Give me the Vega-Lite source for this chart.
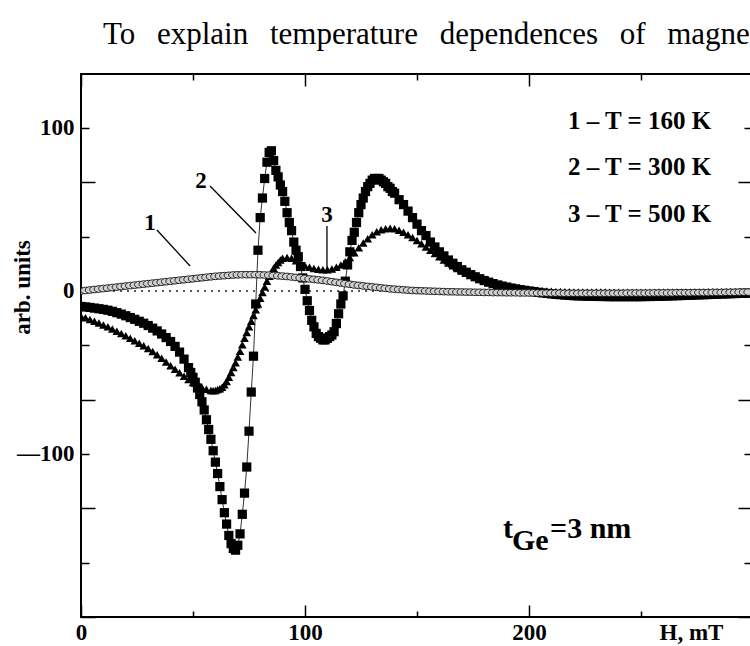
{
  "$schema": "https://vega.github.io/schema/vega-lite/v6.json",
  "width": 671,
  "height": 543,
  "autosize": "none",
  "padding": {"left": 81, "top": 74, "right": -2, "bottom": 29},
  "background": "white",
  "title": {
    "text": "To\u2002\u2009explain\u2002\u2009temperature\u2002\u2009dependences\u2002\u2009of\u2002\u2009magnetic",
    "anchor": "start", "frame": "group", "dx": 22, "dy": 32, "offset": 30,
    "baseline": "alphabetic", "font": "Liberation Serif", "fontSize": 31,
    "fontWeight": "normal", "color": "black"
  },
  "config": {
    "view": {"stroke": "black", "strokeWidth": 2},
    "axis": {
      "domain": false, "grid": false, "tickColor": "black", "tickWidth": 1.5,
      "labelFont": "Liberation Serif", "labelFontWeight": "bold", "labelFontSize": 23,
      "labelColor": "black", "labelFlush": false, "labelOverlap": false, "labelBound": false,
      "titleFont": "Liberation Serif", "titleFontWeight": "bold", "titleFontSize": 23, "titleColor": "black"
    }
  },
  "datasets": {
    "c1": [
      {"h":0,"v":0},{"h":2,"v":0.3},{"h":4,"v":0.6},{"h":6,"v":0.9},{"h":8,"v":1.2},{"h":10,"v":1.5},{"h":12,"v":1.8},{"h":14,"v":2.1},{"h":16,"v":2.4},{"h":18,"v":2.7},
      {"h":20,"v":3.0},{"h":22,"v":3.3},{"h":24,"v":3.6},{"h":26,"v":3.9},{"h":28,"v":4.2},{"h":30,"v":4.5},{"h":32,"v":4.8},{"h":34,"v":5.1},{"h":36,"v":5.4},{"h":38,"v":5.7},
      {"h":40,"v":6.0},{"h":42,"v":6.3},{"h":44,"v":6.6},{"h":46,"v":6.9},{"h":48,"v":7.2},{"h":50,"v":7.5},{"h":52,"v":7.8},{"h":54,"v":8.1},{"h":56,"v":8.4},{"h":58,"v":8.7},
      {"h":60,"v":9.0},{"h":62,"v":9.2},{"h":64,"v":9.4},{"h":66,"v":9.6},{"h":68,"v":9.8},{"h":70,"v":9.9},{"h":72,"v":10},{"h":74,"v":10},{"h":76,"v":10},{"h":78,"v":10},
      {"h":80,"v":9.9},{"h":82,"v":9.8},{"h":84,"v":9.7},{"h":86,"v":9.5},{"h":88,"v":9.3},{"h":90,"v":9.1},{"h":92,"v":8.9},{"h":94,"v":8.6},{"h":96,"v":8.3},{"h":98,"v":8.0},
      {"h":100,"v":7.7},{"h":102,"v":7.4},{"h":104,"v":7.1},{"h":106,"v":6.8},{"h":108,"v":6.5},{"h":110,"v":6.1},{"h":112,"v":5.7},{"h":114,"v":5.3},{"h":116,"v":4.9},{"h":118,"v":4.5},
      {"h":120,"v":4.1},{"h":122,"v":3.7},{"h":124,"v":3.4},{"h":126,"v":3.1},{"h":128,"v":2.8},{"h":130,"v":2.5},{"h":132,"v":2.2},{"h":134,"v":1.9},{"h":136,"v":1.6},{"h":138,"v":1.3},
      {"h":140,"v":1.1},{"h":142,"v":0.9},{"h":144,"v":0.7},{"h":146,"v":0.5},{"h":148,"v":0.3},{"h":150,"v":0.2},{"h":152,"v":0.1},{"h":154,"v":0},{"h":156,"v":-0.1},{"h":158,"v":-0.2},
      {"h":160,"v":-0.3},{"h":162,"v":-0.4},{"h":164,"v":-0.5},{"h":166,"v":-0.5},{"h":168,"v":-0.6},{"h":170,"v":-0.6},{"h":172,"v":-0.7},{"h":174,"v":-0.7},{"h":176,"v":-0.8},{"h":178,"v":-0.8},
      {"h":180,"v":-0.9},{"h":182,"v":-0.9},{"h":184,"v":-1.0},{"h":186,"v":-1.0},{"h":188,"v":-1.0},{"h":190,"v":-1.1},{"h":192,"v":-1.1},{"h":194,"v":-1.1},{"h":196,"v":-1.2},{"h":198,"v":-1.2},
      {"h":200,"v":-1.2},{"h":202,"v":-1.2},{"h":204,"v":-1.3},{"h":206,"v":-1.3},{"h":208,"v":-1.3},{"h":210,"v":-1.3},{"h":212,"v":-1.3},{"h":214,"v":-1.3},{"h":216,"v":-1.4},{"h":218,"v":-1.4},
      {"h":220,"v":-1.4},{"h":222,"v":-1.4},{"h":224,"v":-1.4},{"h":226,"v":-1.4},{"h":228,"v":-1.4},{"h":230,"v":-1.4},{"h":232,"v":-1.4},{"h":234,"v":-1.4},{"h":236,"v":-1.4},{"h":238,"v":-1.4},
      {"h":240,"v":-1.4},{"h":242,"v":-1.4},{"h":244,"v":-1.3},{"h":246,"v":-1.3},{"h":248,"v":-1.3},{"h":250,"v":-1.3},{"h":252,"v":-1.3},{"h":254,"v":-1.3},{"h":256,"v":-1.2},{"h":258,"v":-1.2},
      {"h":260,"v":-1.2},{"h":262,"v":-1.2},{"h":264,"v":-1.2},{"h":266,"v":-1.1},{"h":268,"v":-1.1},{"h":270,"v":-1.1},{"h":272,"v":-1.1},{"h":274,"v":-1.0},{"h":276,"v":-1.0},{"h":278,"v":-1.0},
      {"h":280,"v":-1.0},{"h":282,"v":-0.9},{"h":284,"v":-0.9},{"h":286,"v":-0.9},{"h":288,"v":-0.8},{"h":290,"v":-0.8},{"h":292,"v":-0.8},{"h":294,"v":-0.7},{"h":296,"v":-0.7},{"h":298,"v":-0.7}
    ],
    "c2": [
      {"h":0,"v":-9.5},{"h":2,"v":-9.8},{"h":4,"v":-10.1},{"h":6,"v":-10.5},{"h":8,"v":-10.9},{"h":10,"v":-11.3},{"h":12,"v":-11.8},{"h":14,"v":-12.5},{"h":16,"v":-13.3},{"h":18,"v":-14.2},
      {"h":20,"v":-15.2},{"h":22,"v":-16.3},{"h":24,"v":-17.4},{"h":26,"v":-18.6},{"h":28,"v":-19.8},{"h":30,"v":-21.2},{"h":32,"v":-22.8},{"h":34,"v":-24.5},{"h":36,"v":-26.4},{"h":38,"v":-28.6},
      {"h":40,"v":-31},{"h":42,"v":-34},{"h":44,"v":-37.5},{"h":46,"v":-41.8},{"h":48,"v":-47},{"h":49,"v":-50},{"h":50,"v":-53},{"h":51,"v":-56},{"h":52,"v":-59.5},{"h":53,"v":-63.5},
      {"h":54,"v":-68},{"h":55,"v":-73},{"h":56,"v":-79},{"h":57,"v":-85},{"h":58,"v":-91},{"h":59,"v":-98},{"h":60,"v":-105},{"h":61,"v":-112},{"h":62,"v":-120},{"h":63,"v":-128},
      {"h":64,"v":-136},{"h":65,"v":-143},{"h":66,"v":-150},{"h":67,"v":-155},{"h":68,"v":-158},{"h":69,"v":-159},{"h":70,"v":-156},{"h":71,"v":-149},{"h":72,"v":-137},{"h":73,"v":-124},
      {"h":74,"v":-108},{"h":75,"v":-86},{"h":76,"v":-62},{"h":77,"v":-40},{"h":78,"v":-8},{"h":79,"v":25},{"h":80,"v":45},{"h":81,"v":57},{"h":82,"v":69},{"h":83,"v":79},
      {"h":84,"v":85},{"h":85,"v":86},{"h":86,"v":80},{"h":87,"v":74},{"h":88,"v":70},{"h":89,"v":65},{"h":90,"v":61},{"h":91,"v":55},{"h":92,"v":48},{"h":93,"v":42},
      {"h":94,"v":37},{"h":95,"v":30},{"h":96,"v":25},{"h":97,"v":21},{"h":98,"v":15},{"h":99,"v":8},{"h":100,"v":1},{"h":101,"v":-6},{"h":102,"v":-12},{"h":103,"v":-18},
      {"h":104,"v":-22},{"h":105,"v":-26},{"h":106,"v":-28},{"h":107,"v":-29},{"h":108,"v":-30},{"h":109,"v":-30},{"h":110,"v":-29},{"h":111,"v":-28},{"h":112,"v":-27},{"h":113,"v":-25},
      {"h":114,"v":-20},{"h":115,"v":-14},{"h":116,"v":-8},{"h":117,"v":-3},{"h":118,"v":6},{"h":119,"v":16},{"h":120,"v":24},{"h":121,"v":31},{"h":122,"v":36},{"h":123,"v":42},
      {"h":124,"v":48},{"h":125,"v":53},{"h":126,"v":57},{"h":127,"v":61},{"h":128,"v":64},{"h":129,"v":66},{"h":130,"v":68},{"h":131,"v":69},{"h":132,"v":69},{"h":133,"v":69},
      {"h":134,"v":68},{"h":135,"v":67},{"h":136,"v":66},{"h":137,"v":64},{"h":138,"v":63},{"h":139,"v":61},{"h":140,"v":60},{"h":142,"v":56},{"h":144,"v":53},{"h":146,"v":49},
      {"h":148,"v":45},{"h":150,"v":41},{"h":152,"v":37},{"h":154,"v":34},{"h":156,"v":30},{"h":158,"v":27},{"h":160,"v":24},{"h":162,"v":21.5},{"h":164,"v":19},{"h":166,"v":17},
      {"h":168,"v":15},{"h":170,"v":13},{"h":172,"v":11.5},{"h":174,"v":10},{"h":176,"v":8.7},{"h":178,"v":7.5},{"h":180,"v":6.4},{"h":182,"v":5.4},{"h":184,"v":4.5},{"h":186,"v":3.7},
      {"h":188,"v":3},{"h":190,"v":2.4},{"h":192,"v":1.8},{"h":194,"v":1.3},{"h":196,"v":0.8},{"h":198,"v":0.4},{"h":200,"v":0},{"h":202,"v":-0.4},{"h":204,"v":-0.8},{"h":206,"v":-1.2},
      {"h":208,"v":-1.5},{"h":210,"v":-1.8},{"h":212,"v":-2.1},{"h":214,"v":-2.3},{"h":216,"v":-2.5},{"h":218,"v":-2.7},{"h":220,"v":-2.9},{"h":222,"v":-3},{"h":224,"v":-3.1},{"h":226,"v":-3.2},
      {"h":228,"v":-3.3},{"h":230,"v":-3.3},{"h":232,"v":-3.4},{"h":234,"v":-3.4},{"h":236,"v":-3.5},{"h":238,"v":-3.5},{"h":240,"v":-3.5},{"h":242,"v":-3.5},{"h":244,"v":-3.5},{"h":246,"v":-3.5},
      {"h":248,"v":-3.5},{"h":250,"v":-3.5},{"h":252,"v":-3.4},{"h":254,"v":-3.4},{"h":256,"v":-3.3},{"h":258,"v":-3.3},{"h":260,"v":-3.2},{"h":262,"v":-3.1},{"h":264,"v":-3},{"h":266,"v":-2.9},
      {"h":268,"v":-2.8},{"h":270,"v":-2.7},{"h":272,"v":-2.6},{"h":274,"v":-2.5},{"h":276,"v":-2.4},{"h":278,"v":-2.3},{"h":280,"v":-2.2},{"h":282,"v":-2.1},{"h":284,"v":-2},{"h":286,"v":-1.9},
      {"h":288,"v":-1.8},{"h":290,"v":-1.7},{"h":292,"v":-1.6},{"h":294,"v":-1.5},{"h":296,"v":-1.5},{"h":298,"v":-1.4}
    ],
    "c3": [
      {"h":0,"v":-15.5},{"h":2,"v":-16.5},{"h":4,"v":-17.5},{"h":6,"v":-18.5},{"h":8,"v":-19.6},{"h":10,"v":-20.8},{"h":12,"v":-22},{"h":14,"v":-23.3},{"h":16,"v":-24.7},{"h":18,"v":-26.1},
      {"h":20,"v":-27.5},{"h":22,"v":-29},{"h":24,"v":-30.5},{"h":26,"v":-32},{"h":28,"v":-33.6},{"h":30,"v":-35.3},{"h":32,"v":-37.2},{"h":34,"v":-39.2},{"h":36,"v":-41.3},{"h":38,"v":-43.5},
      {"h":40,"v":-45.8},{"h":42,"v":-48},{"h":44,"v":-50.2},{"h":46,"v":-52.3},{"h":48,"v":-54.3},{"h":50,"v":-56.2},{"h":52,"v":-57.8},{"h":54,"v":-59.2},{"h":56,"v":-60.3},{"h":58,"v":-61},
      {"h":59,"v":-61.2},{"h":60,"v":-61},{"h":61,"v":-60.5},{"h":62,"v":-60},{"h":63,"v":-59},{"h":64,"v":-57.5},{"h":65,"v":-55.5},{"h":66,"v":-53},{"h":67,"v":-50},{"h":68,"v":-47},
      {"h":69,"v":-44},{"h":70,"v":-40.5},{"h":71,"v":-37},{"h":72,"v":-33},{"h":73,"v":-29},{"h":74,"v":-25.5},{"h":75,"v":-22},{"h":76,"v":-18.5},{"h":77,"v":-15},{"h":78,"v":-11.5},
      {"h":79,"v":-8},{"h":80,"v":-4.5},{"h":81,"v":-1},{"h":82,"v":2.5},{"h":83,"v":6},{"h":84,"v":9},{"h":85,"v":11.5},{"h":86,"v":14},{"h":87,"v":16},{"h":88,"v":17.5},
      {"h":89,"v":19},{"h":90,"v":20},{"h":92,"v":20.5},{"h":94,"v":20},{"h":96,"v":18.5},{"h":98,"v":17},{"h":100,"v":15.5},{"h":102,"v":14.5},{"h":104,"v":13.8},{"h":106,"v":13.3},
      {"h":108,"v":13},{"h":110,"v":13},{"h":112,"v":13.5},{"h":114,"v":14.5},{"h":116,"v":16},{"h":118,"v":18},{"h":120,"v":20.5},{"h":122,"v":23.5},{"h":124,"v":26.5},{"h":126,"v":29.5},
      {"h":128,"v":32},{"h":130,"v":34.5},{"h":132,"v":36.3},{"h":134,"v":37.5},{"h":136,"v":38.2},{"h":138,"v":38.5},{"h":140,"v":38.2},{"h":142,"v":37.3},{"h":144,"v":36},{"h":146,"v":34.5},
      {"h":148,"v":32.8},{"h":150,"v":31},{"h":152,"v":29},{"h":154,"v":27},{"h":156,"v":25},{"h":158,"v":23},{"h":160,"v":21},{"h":162,"v":19},{"h":164,"v":17.2},{"h":166,"v":15.5},
      {"h":168,"v":13.8},{"h":170,"v":12.3},{"h":172,"v":10.9},{"h":174,"v":9.6},{"h":176,"v":8.4},{"h":178,"v":7.3},{"h":180,"v":6.3},{"h":182,"v":5.4},{"h":184,"v":4.6},{"h":186,"v":3.9},
      {"h":188,"v":3.3},{"h":190,"v":2.8},{"h":192,"v":2.3},{"h":194,"v":1.9},{"h":196,"v":1.5},{"h":198,"v":1.2},{"h":200,"v":0.9},{"h":202,"v":0.6},{"h":204,"v":0.4},{"h":206,"v":0.2},
      {"h":208,"v":0},{"h":210,"v":-0.2},{"h":212,"v":-0.3},{"h":214,"v":-0.4},{"h":216,"v":-0.5},{"h":218,"v":-0.5},{"h":220,"v":-0.6},{"h":222,"v":-0.6},{"h":224,"v":-0.6},{"h":226,"v":-0.7},
      {"h":228,"v":-0.7},{"h":230,"v":-0.7},{"h":232,"v":-0.7},{"h":234,"v":-0.7},{"h":236,"v":-0.8},{"h":238,"v":-0.8},{"h":240,"v":-0.8},{"h":242,"v":-0.8},{"h":244,"v":-0.8},{"h":246,"v":-0.8},
      {"h":248,"v":-0.8},{"h":250,"v":-0.8},{"h":252,"v":-0.8},{"h":254,"v":-0.8},{"h":256,"v":-0.8},{"h":258,"v":-0.7},{"h":260,"v":-0.7},{"h":262,"v":-0.7},{"h":264,"v":-0.7},{"h":266,"v":-0.7},
      {"h":268,"v":-0.7},{"h":270,"v":-0.6},{"h":272,"v":-0.6},{"h":274,"v":-0.6},{"h":276,"v":-0.6},{"h":278,"v":-0.6},{"h":280,"v":-0.5},{"h":282,"v":-0.5},{"h":284,"v":-0.5},{"h":286,"v":-0.5},
      {"h":288,"v":-0.5},{"h":290,"v":-0.4},{"h":292,"v":-0.4},{"h":294,"v":-0.4},{"h":296,"v":-0.4},{"h":298,"v":-0.4}
    ],
    "leaders": [
      {"h":33.9,"v":37.4,"h2":48.7,"v2":15.3},
      {"h":57.6,"v":64.4,"h2":78.1,"v2":35.6},
      {"h":109.8,"v":39.9,"h2":109.8,"v2":14.1}
    ],
    "tags": [
      {"h":30.8,"v":37.4,"t":"1"},
      {"h":53.6,"v":63.2,"t":"2"},
      {"h":109.8,"v":42.3,"t":"3"}
    ],
    "legend": [
      {"h":217.4,"v":99.4,"t":"1 – T = 160 K"},
      {"h":217.4,"v":71.2,"t":"2 – T = 300 K"},
      {"h":217.4,"v":42.3,"t":"3 – T = 500 K"}
    ],
    "sample": [
      {"h":188.4,"v":-151.5,"t":"t"},
      {"h":192.4,"v":-158.9,"t":"Ge"},
      {"h":209.4,"v":-151.5,"t":"=3 nm"}
    ],
    "zero": [{"v":0}]
  },
  "layer": [
    {
      "data": {"name": "zero"},
      "mark": {"type": "rule", "color": "#222", "strokeWidth": 1.6, "strokeDash": [2, 5]},
      "encoding": {
        "y": {"field": "v", "type": "quantitative",
          "scale": {"domain": [-200, 133.1], "nice": false, "zero": false},
          "axis": {"orient": "left", "values": [-200, -133.333, -66.667, 0, 66.667], "tickSize": -14,
            "labelExpr": "datum.value == 0 ? '0' : ''", "labelPadding": 21,
            "title": "arb. units", "titleX": -52, "titleY": 213, "titleAngle": -90,
            "titleBaseline": "alphabetic", "titleAlign": "center"}}
      }
    },
    {
      "data": {"name": "c2"},
      "mark": {"type": "line", "color": "#333", "strokeWidth": 1, "clip": true},
      "encoding": {
        "x": {"field": "h", "type": "quantitative",
          "scale": {"domain": [0, 299.55], "nice": false, "zero": false},
          "axis": {"orient": "bottom", "values": [0, 100, 200], "tickSize": -12, "labelPadding": 16,
            "title": "H, mT", "titleX": 610, "titleY": 22, "titleBaseline": "alphabetic", "titleAlign": "center", "titleAnchor": null}},
        "y": {"field": "v", "type": "quantitative",
          "scale": {"domain": [-200, 133.1], "nice": false, "zero": false},
          "axis": {"orient": "left", "values": [-166.667, -100, -33.333, 33.333, 100], "tickSize": -8,
            "labelExpr": "datum.value == 100 ? '100' : (datum.value == -100 ? '—100' : '')", "labelPadding": 15, "title": null}}
      }
    },
    {
      "data": {"name": "c2"},
      "mark": {"type": "point", "shape": "square", "filled": true, "color": "black", "size": 85, "opacity": 1, "clip": true},
      "encoding": {
        "x": {"field": "h", "type": "quantitative",
          "scale": {"domain": [0, 299.55], "nice": false, "zero": false},
          "axis": {"orient": "bottom", "values": [50, 150, 250], "tickSize": -6, "labels": false, "title": null}},
        "y": {"field": "v", "type": "quantitative",
          "scale": {"domain": [-200, 133.1], "nice": false, "zero": false},
          "axis": {"orient": "right", "values": [-200, -133.333, -66.667, 0, 66.667], "tickSize": -14, "labels": false, "title": null}}
      }
    },
    {
      "data": {"name": "c3"},
      "mark": {"type": "point", "shape": "triangle-up", "filled": true, "color": "black", "size": 75, "opacity": 1, "clip": true},
      "encoding": {
        "x": {"field": "h", "type": "quantitative",
          "scale": {"domain": [0, 299.55], "nice": false, "zero": false},
          "axis": {"orient": "top", "values": [0, 100, 200], "tickSize": -12, "labels": false, "title": null}},
        "y": {"field": "v", "type": "quantitative",
          "scale": {"domain": [-200, 133.1], "nice": false, "zero": false},
          "axis": {"orient": "right", "values": [-166.667, -100, -33.333, 33.333, 100], "tickSize": -8, "labels": false, "title": null}}
      }
    },
    {
      "data": {"name": "c1"},
      "mark": {"type": "point", "shape": "M-1,0A1,0.7,0,1,1,1,0A1,0.7,0,1,1,-1,0Z", "filled": true,
        "fill": "#d0d0d0", "stroke": "#111", "strokeWidth": 0.9, "size": 90, "opacity": 1, "clip": true},
      "encoding": {
        "x": {"field": "h", "type": "quantitative",
          "scale": {"domain": [0, 299.55], "nice": false, "zero": false},
          "axis": {"orient": "top", "values": [50, 150, 250], "tickSize": -6, "labels": false, "title": null}},
        "y": {"field": "v", "type": "quantitative",
          "scale": {"domain": [-200, 133.1], "nice": false, "zero": false}, "axis": null}
      }
    },
    {
      "data": {"name": "leaders"},
      "mark": {"type": "rule", "color": "black", "strokeWidth": 1.3},
      "encoding": {
        "x": {"field": "h", "type": "quantitative", "scale": {"domain": [0, 299.55], "nice": false, "zero": false}, "axis": null},
        "y": {"field": "v", "type": "quantitative", "scale": {"domain": [-200, 133.1], "nice": false, "zero": false}, "axis": null},
        "x2": {"field": "h2"},
        "y2": {"field": "v2"}
      }
    },
    {
      "data": {"name": "tags"},
      "mark": {"type": "text", "font": "Liberation Serif", "fontWeight": "bold", "fontSize": 23, "align": "center", "baseline": "alphabetic", "color": "black"},
      "encoding": {
        "x": {"field": "h", "type": "quantitative", "scale": {"domain": [0, 299.55], "nice": false, "zero": false}, "axis": null},
        "y": {"field": "v", "type": "quantitative", "scale": {"domain": [-200, 133.1], "nice": false, "zero": false}, "axis": null},
        "text": {"field": "t"}
      }
    },
    {
      "data": {"name": "legend"},
      "mark": {"type": "text", "font": "Liberation Serif", "fontWeight": "bold", "fontSize": 25, "align": "left", "baseline": "alphabetic", "color": "black"},
      "encoding": {
        "x": {"field": "h", "type": "quantitative", "scale": {"domain": [0, 299.55], "nice": false, "zero": false}, "axis": null},
        "y": {"field": "v", "type": "quantitative", "scale": {"domain": [-200, 133.1], "nice": false, "zero": false}, "axis": null},
        "text": {"field": "t"}
      }
    },
    {
      "data": {"name": "sample"},
      "mark": {"type": "text", "font": "Liberation Serif", "fontWeight": "bold", "fontSize": 30, "align": "left", "baseline": "alphabetic", "color": "black"},
      "encoding": {
        "x": {"field": "h", "type": "quantitative", "scale": {"domain": [0, 299.55], "nice": false, "zero": false}, "axis": null},
        "y": {"field": "v", "type": "quantitative", "scale": {"domain": [-200, 133.1], "nice": false, "zero": false}, "axis": null},
        "text": {"field": "t"}
      }
    }
  ],
  "resolve": {"axis": {"x": "independent", "y": "independent"}}
}
